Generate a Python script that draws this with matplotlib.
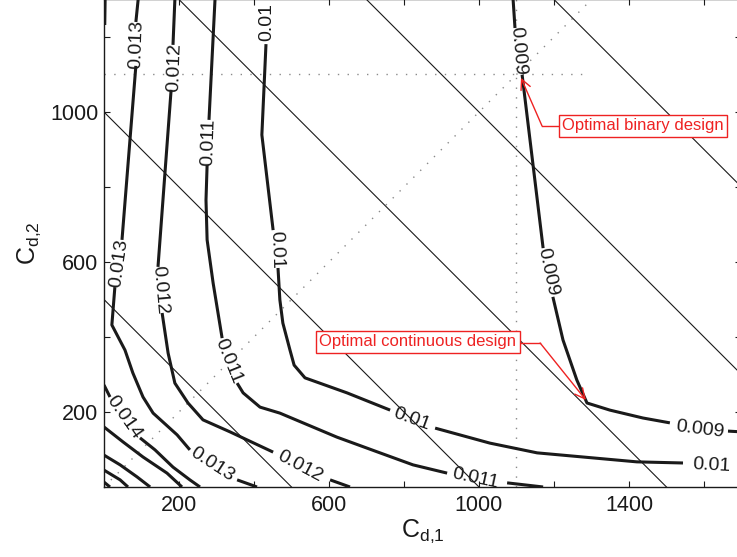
import matplotlib
matplotlib.use("Agg")
import matplotlib.pyplot as plt

plt.rcParams["font.family"] = ["Liberation Sans", "DejaVu Sans"]
plt.rcParams["mathtext.fontset"] = "custom"
plt.rcParams["mathtext.rm"] = "Liberation Sans"

# ── data (axes units) ───────────────────────────────────────────────────────
budget_sums = [500, 1000, 1500, 2000, 2500]          # thin lines C1 + C2 = const
binary_opt = (1100, 1100)
continuous_opt = (1288, 224)

# contour polylines, one list of (x, y) segments per level (gaps at labels)
lvl_009_segs = [
    ([1091, 1096], [1299, 1224]),
    ([1115, 1171], [1099, 637]),
    ([1197, 1224, 1261, 1288, 1349, 1437, 1509], [507, 392, 285, 224, 205, 184, 171]),
    ([1664, 1700], [149, 147]),
]
lvl_009_labels = [(1104, 1163, -85), (1184, 573, -78), (1590, 152, -7)]

lvl_010_segs = [
    ([432, 421, 451], [1181, 939, 685]),
    ([464, 469, 477, 496, 507, 536, 648, 763], [584, 499, 437, 365, 325, 291, 251, 205]),
    ([883, 1029, 1155, 1421, 1544], [157, 117, 91, 67, 64]),
]
lvl_010_labels = [(435, 1240, 90), (459, 633, -88), (821, 180, -20), (1619, 57, -3)]

lvl_011_segs = [
    ([296, 280], [1299, 979]),
    ([275, 272, 275, 291, 315], [859, 765, 659, 544, 397]),
    ([355, 371, 416, 469, 621, 736, 824, 915], [277, 251, 213, 197, 133, 91, 59, 37]),
    ([1075, 1171], [11, 0]),
]
lvl_011_labels = [(280, 920, 88), (331, 336, -68), (989, 22, -12)]

lvl_012_segs = [
    ([189, 184], [1299, 1179]),
    ([179, 144], [1059, 587]),
    ([155, 171, 189, 224, 264, 336, 451], [464, 357, 277, 224, 179, 147, 93]),
    ([603, 656], [19, 0]),
]
lvl_012_labels = [(187, 1119, 88), (149, 525, -85), (523, 55, -28)]

lvl_013_segs = [
    ([91, 85], [1299, 1240]),
    ([85, 48], [1123, 659]),
    ([29, 21, 56, 77, 104, 131, 195, 229], [533, 432, 365, 304, 240, 197, 139, 99]),
    ([355, 408], [19, 0]),
]
lvl_013_labels = [(88, 1181, 88), (40, 596, 82), (288, 60, -33)]

lvl_014_segs = [
    ([3, 2], [1300, 1232]),
    ([0, 16], [272, 240]),
    ([96, 136, 184, 229, 256], [131, 99, 53, 19, 0]),
]
lvl_014_labels = [(53, 186, -55)]

# unlabelled levels crowding the lower-left corner
corner_segs = [
    ([0, 51, 104, 168, 208], [160, 120, 80, 37, 0]),
    ([0, 43, 88, 123], [85, 59, 27, 0]),
    ([0, 43, 64], [45, 19, 0]),
    ([0, 16], [13, 0]),
]

x_ticks = [200, 400, 600, 800, 1000, 1200, 1400, 1600]
x_ticklabels = ["200", "", "600", "", "1000", "", "1400", ""]
y_ticks = [200, 400, 600, 800, 1000, 1200]
y_ticklabels = ["200", "", "600", "", "1000", ""]

# ── figure ───────────────────────────────────────────────────────────────────
fig = plt.figure(figsize=(7.37, 5.57), dpi=100)
ax = fig.add_axes([0.1411, 0.1257, 0.865, 0.8752])
ax.set_xlim(0, 1700)
ax.set_ylim(0, 1300)

INK = "#1a1a1a"
RED = "#ee2222"

for s in budget_sums:
    ax.plot([0, s], [s, 0], color=INK, lw=0.8, zorder=2)

dot = dict(color="#8a8a8a", lw=1.0, dashes=(1, 6), zorder=1)
ax.plot([0, 1300], [0, 1300], **dot)
ax.plot([0, 1290], [binary_opt[1], binary_opt[1]], **dot)
ax.plot([binary_opt[0], binary_opt[0]], [0, 1300], **dot)

levels = [
    ("0.009", lvl_009_segs, lvl_009_labels),
    ("0.01", lvl_010_segs, lvl_010_labels),
    ("0.011", lvl_011_segs, lvl_011_labels),
    ("0.012", lvl_012_segs, lvl_012_labels),
    ("0.013", lvl_013_segs, lvl_013_labels),
    ("0.014", lvl_014_segs, lvl_014_labels),
    ("", corner_segs, []),
]
for text, segs, labels in levels:
    for xs, ys in segs:
        ax.plot(xs, ys, color=INK, lw=2.2, solid_capstyle="butt",
                solid_joinstyle="round", zorder=3)
    for lx, ly, rot in labels:
        ax.text(lx, ly, text, rotation=rot, rotation_mode="anchor",
                ha="center", va="center", fontsize=14, color=INK, zorder=4)

# annotations
box = dict(boxstyle="square,pad=0.2", fc="white", ec=RED, lw=1.0)
arrow = dict(arrowstyle="->", color=RED, lw=1.0, mutation_scale=18,
             shrinkA=0, shrinkB=0)

ax.text(1437, 963, "Optimal binary design", color=RED, fontsize=12,
        ha="center", va="center", bbox=box, zorder=6)
ax.plot([1216, 1168], [963, 963], color=RED, lw=1.0, zorder=5)
ax.annotate("", xy=(binary_opt[0] + 12, binary_opt[1] - 9), xytext=(1168, 963),
            arrowprops=arrow, zorder=5)

ax.text(837, 387, "Optimal continuous design", color=RED, fontsize=12,
        ha="center", va="center", bbox=box, zorder=6)
ax.plot([1112, 1163], [384, 384], color=RED, lw=1.0, zorder=5)
ax.annotate("", xy=(continuous_opt[0] - 3, continuous_opt[1] + 8), xytext=(1163, 384),
            arrowprops=arrow, zorder=5)

ax.set_xticks(x_ticks)
ax.set_xticklabels(x_ticklabels)
ax.set_yticks(y_ticks)
ax.set_yticklabels(y_ticklabels)
ax.tick_params(direction="in", top=True, right=True, length=4, width=0.8,
               labelsize=15.5, colors=INK)
ax.tick_params(axis="x", pad=6)
ax.tick_params(axis="y", pad=4)
for sp in ax.spines.values():
    sp.set_linewidth(1.0)
    sp.set_color(INK)

ax.set_xlabel(r"$\mathrm{C}_{\mathrm{d{,}1}}$", fontsize=18, labelpad=1, color=INK)
ax.set_ylabel(r"$\mathrm{C}_{\mathrm{d{,}2}}$", fontsize=18, labelpad=5, color=INK)

fig.savefig("out.png", dpi=100)
